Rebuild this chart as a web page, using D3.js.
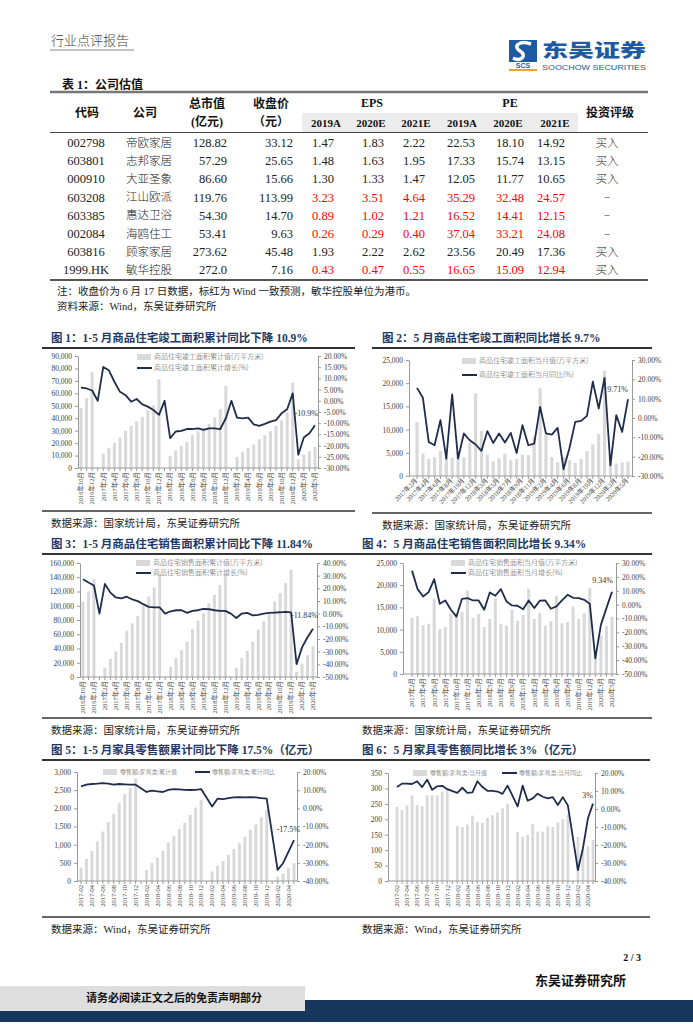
<!DOCTYPE html>
<html>
<head>
<meta charset="utf-8">
<script src="https://cdn.jsdelivr.net/npm/d3@7"></script>
<style>
  body { margin: 0; background: #fff; }
  svg { display: block; }
  text { font-family: "Liberation Serif", "Noto Sans CJK SC", serif; }
</style>
</head>
<body>
<script>
// ---- table 1 data ----
const codes = ["002798", "603801", "000910", "603208", "603385", "002084", "603816", "1999.HK"];
const companies = ["帝欧家居", "志邦家居", "大亚圣象", "江山欧派", "惠达卫浴", "海鸥住工", "顾家家居", "敏华控股"];
const marketCap = ["128.82", "57.29", "86.60", "119.76", "54.30", "53.41", "273.62", "272.0"];
const closePrice = ["33.12", "25.65", "15.66", "113.99", "14.70", "9.63", "45.48", "7.16"];
const eps2019 = ["1.47", "1.48", "1.30", "3.23", "0.89", "0.26", "1.93", "0.43"];
const eps2020 = ["1.83", "1.63", "1.33", "3.51", "1.02", "0.29", "2.22", "0.47"];
const eps2021 = ["2.22", "1.95", "1.47", "4.64", "1.21", "0.40", "2.62", "0.55"];
const pe2019 = ["22.53", "17.33", "12.05", "35.29", "16.52", "37.04", "23.56", "16.65"];
const pe2020 = ["18.10", "15.74", "11.77", "32.48", "14.41", "33.21", "20.49", "15.09"];
const pe2021 = ["14.92", "13.15", "10.65", "24.57", "12.15", "24.08", "17.36", "12.94"];
const ratings = ["买入", "买入", "买入", "–", "–", "–", "买入", "买入"];
const windForecast = [false, false, false, true, true, true, false, true];

// ---- chart categories ----
const cumMonths = [
  "2016年10月", "2016年11月", "2016年12月",
  "2017年1月", "2017年2月", "2017年3月", "2017年4月", "2017年5月", "2017年6月", "2017年7月", "2017年8月", "2017年9月", "2017年10月", "2017年11月", "2017年12月",
  "2018年1月", "2018年2月", "2018年3月", "2018年4月", "2018年5月", "2018年6月", "2018年7月", "2018年8月", "2018年9月", "2018年10月", "2018年11月", "2018年12月",
  "2019年1月", "2019年2月", "2019年3月", "2019年4月", "2019年5月", "2019年6月", "2019年7月", "2019年8月", "2019年9月", "2019年10月", "2019年11月", "2019年12月",
  "2020年2月", "2020年3月", "2020年4月", "2020年5月"
];
const singleMonths = [
  "2017年2月", "2017年3月", "2017年4月", "2017年5月", "2017年6月", "2017年7月", "2017年8月", "2017年9月", "2017年10月", "2017年11月", "2017年12月",
  "2018年2月", "2018年3月", "2018年4月", "2018年5月", "2018年6月", "2018年7月", "2018年8月", "2018年9月", "2018年10月", "2018年11月", "2018年12月",
  "2019年2月", "2019年3月", "2019年4月", "2019年5月", "2019年6月", "2019年7月", "2019年8月", "2019年9月", "2019年10月", "2019年11月", "2019年12月",
  "2020年2月", "2020年3月", "2020年4月", "2020年5月"
];
const retailMonths = [
  "2017-02", "2017-03", "2017-04", "2017-05", "2017-06", "2017-07", "2017-08", "2017-09", "2017-10", "2017-11", "2017-12",
  "2018-01", "2018-02", "2018-03", "2018-04", "2018-05", "2018-06", "2018-07", "2018-08", "2018-09", "2018-10", "2018-11", "2018-12",
  "2019-01", "2019-02", "2019-03", "2019-04", "2019-05", "2019-06", "2019-07", "2019-08", "2019-09", "2019-10", "2019-11", "2019-12",
  "2020-01", "2020-02", "2020-03", "2020-04", "2020-05"
];

// ---- chart 1: completed area, cumulative ----
const completedCum = [48200, 56300, 77100, null,
  11500, 16300, 20400, 24100, 29700, 33800, 37500, 41000, 46300, 50400, 71300, null,
  9600, 14200, 17700, 20900, 26300, 29500, 32100, 35600, 40700, 47100, 65900, null,
  8800, 12900, 16100, 18800, 23000, 26300, 29500, 33800, 38300, 44500, 68600,
  7000, 10700, 13400, 16900];
const completedCumYoy = [5.9, 5.5, 4.6, 0,
  15.1, 13.6, 8.5, 4.0, 2.5, -0.4, 0.8, -1.6, -2.6, -4.1, -6.3, 0,
  -16.7, -13.7, -13.4, -12.6, -12.6, -12.3, -13.0, -12.3, -12.3, -12.6, -7.8, 0,
  -7.5, -7.8, -7.5, -10.5, -11.2, -10.3, -9.3, -8.6, -5.6, -3.8, 3.3,
  -24.1, -16.4, -14.5, -10.9];

// ---- chart 2: completed area, single month ----
const completedMonth = [11600, 4800, 3700, 4100, 5400, 4000, 3900, 5300, 4000, 7200, 17800,
  9700, 4600, 3200, 3800, 4800, 3500, 3700, 4600, 4500, 8500, 18900,
  9000, 4100, 3000, 4100, 3400, 2800, 3700, 5300, 6800, 9000, 22700,
  4300, 2700, 2900, 3100];
const completedMonthYoy = [15.6, 10.5, -12.4, -14.1, -1.1, -21.0, 12.2, -21.0, -8.0, -11.5, -13.7,
  -17.0, -6.8, -12.9, -8.0, -12.7, -7.7, -18.1, -3.7, -14.1, -13.2, 5.8,
  -8.0, -8.6, -5.1, -26.5, -15.8, -2.0, -1.5, 1.1, 18.8, 4.9, 20.8,
  -24.5, 1.5, -7.2, 9.71];

// ---- chart 3: sold area, cumulative ----
const soldCum = [105900, 120000, 137400, null,
  13200, 25400, 35800, 48000, 65000, 75300, 85600, 99800, 112900, 125600, 143500, null,
  14100, 26800, 37600, 49400, 66800, 79000, 89400, 103500, 115300, 129000, 143500, null,
  13200, 26400, 36700, 49400, 66800, 78100, 88500, 105900, 117600, 131800, 150600,
  7100, 18800, 30600, 43300];
const soldCumYoy = [27.2, 24.6, 22.2, 0,
  23.5, 16.6, 12.8, 12.0, 13.4, 11.2, 9.9, 7.5, 5.4, 4.9, 4.9, 0,
  1.9, 2.7, 2.7, 0.6, 2.2, 2.7, 3.8, 3.5, 2.7, 2.2, 2.2, 0,
  -3.4, 0.1, 0.6, -1.3, -1.0, 0.1, 0.6, 0.9, 1.1, 1.4, 1.1,
  -39.9, -26.6, -18.6, -11.84];

// ---- chart 4: sold area, single month ----
const soldMonth = [12600, 13000, 11000, 11300, 17000, 10100, 10600, 13500, 13700, 14000, 18800,
  12600, 13500, 10600, 12400, 17000, 11200, 10900, 14500, 12000, 13300, 19200,
  12400, 13700, 10900, 11900, 17600, 11400, 11700, 15200, 12400, 13700, 19400,
  4400, 8700, 10800, 12900];
const soldMonthYoy = [24.5, 11.2, 5.9, 9.0, 18.4, 0.6, 3.0, -3.7, -8.6, 4.2, 4.7,
  3.0, 3.0, -3.7, 8.8, 6.4, 11.2, 2.3, -0.6, -0.8, -3.3, 3.0,
  -2.5, 2.8, 3.0, -3.0, -1.3, 3.0, 7.1, 4.9, 4.7, 3.5, 0.6,
  -38.7, -14.6, -2.5, 9.34];

// ---- chart 5: furniture retail, cumulative (亿元) ----
const furnitureCum = [370, 610, 830, 1090, 1360, 1620, 1850, 2140, 2390, 2560, 2820, null,
  300, 490, 640, 830, 1060, 1240, 1430, 1600, 1820, 2020, 2240, null,
  260, 410, 550, 720, 880, 1040, 1220, 1410, 1560, 1750, 1960, null,
  120, 210, 350, 490];
const furnitureCumYoy = [12.1, 13.0, 13.4, 13.6, 13.9, 13.6, 13.0, 13.4, 13.2, 13.0, 13.0, null,
  9.0, 9.7, 9.3, 9.0, 10.2, 10.6, 10.4, 10.2, 10.1, 10.2, 10.6, null,
  1.0, 5.3, 5.1, 5.6, 6.0, 6.2, 6.0, 6.2, 6.0, 5.6, 5.3, null,
  -33.9, -30.2, -23.8, -17.5];

// ---- chart 6: furniture retail, single month (亿元) ----
const furnitureMonth = [240, 230, 245, 277, 246, 243, 277, 278, 277, 290, 302, null,
  178, 175, 183, 212, 191, 188, 204, 213, 222, 236, 250, null,
  158, 143, 150, 185, 160, 160, 177, 175, 190, 200, 215, null,
  143, 100, 113, 133];
const furnitureMonthYoy = [12.2, 14.1, 14.1, 13.9, 15.4, 12.2, 16.3, 10.7, 12.6, 12.9, 11.0, null,
  9.0, 11.8, 9.0, 9.2, 15.4, 12.2, 10.1, 10.1, 9.7, 8.4, 13.0, null,
  1.4, 13.0, 4.6, 5.9, 8.5, 6.8, 5.9, 6.6, 2.2, 6.6, 2.0, null,
  -33.9, -21.8, -5.1, 3.0];

const NAVY = "#1f3864";
const LINE = "#1f2d4d";
const BAR = "#d9d9d9";
const CJK = '"Noto Sans CJK SC", sans-serif';

const svg = d3.select("body").append("svg").attr("width", 693).attr("height", 1024);

// ---- page header ----
svg.append("text").attr("x", 51).attr("y", 45).attr("font-size", 13).attr("fill", "#444")
  .style("font-family", CJK).style("font-weight", 300).text("行业点评报告");
svg.append("line").attr("x1", 50).attr("x2", 134).attr("y1", 50).attr("y2", 50).attr("stroke", "#888");

const logo = svg.append("g");
logo.append("rect").attr("x", 509).attr("y", 40).attr("width", 28).attr("height", 22).attr("fill", "#1e5aa0");
logo.append("path").attr("d", "M531,44 C520,40 512,46 520,51 C528,56 520,62 513,58")
  .attr("fill", "none").attr("stroke", "#fff").attr("stroke-width", 3.5);
logo.append("text").attr("x", 523).attr("y", 68).attr("text-anchor", "middle").attr("font-size", 7)
  .attr("font-weight", "bold").attr("fill", "#1e5aa0").style("font-family", "Liberation Sans").text("SCS");
logo.append("rect").attr("x", 509).attr("y", 69).attr("width", 28).attr("height", 2).attr("fill", "#f0a030");
logo.append("text").attr("x", 542).attr("y", 57).attr("font-size", 18).attr("fill", "#1e5aa0")
  .attr("textLength", 104).attr("lengthAdjust", "spacingAndGlyphs")
  .style("font-family", CJK).style("font-weight", 900).text("东吴证券");
logo.append("text").attr("x", 542).attr("y", 70).attr("font-size", 7.5).attr("fill", "#1e5aa0")
  .attr("textLength", 104).attr("lengthAdjust", "spacingAndGlyphs")
  .style("font-family", "Liberation Sans").text("SOOCHOW SECURITIES");

// ---- table 1 ----
const tbl = svg.append("g");
tbl.append("text").attr("x", 62).attr("y", 89).attr("font-size", 12).attr("font-weight", "bold")
  .attr("fill", "#111").text("表 1：公司估值");
tbl.append("rect").attr("x", 302).attr("y", 113).attr("width", 276).attr("height", 19).attr("fill", "#ececec");
tbl.append("line").attr("x1", 50).attr("x2", 648).attr("y1", 92).attr("y2", 92).attr("stroke", "#777").attr("stroke-width", 2.5);
tbl.append("line").attr("x1", 50).attr("x2", 648).attr("y1", 132.5).attr("y2", 132.5).attr("stroke", "#444").attr("stroke-width", 1);
tbl.append("line").attr("x1", 50).attr("x2", 648).attr("y1", 280).attr("y2", 280).attr("stroke", "#555").attr("stroke-width", 2);

const headers = [
  { t: "代码", x: 87, y: 113 }, { t: "公司", x: 145, y: 113 },
  { t: "总市值", x: 207, y: 104 }, { t: "(亿元)", x: 207, y: 122 },
  { t: "收盘价", x: 271, y: 104 }, { t: "（元）", x: 271, y: 122 },
  { t: "EPS", x: 372, y: 103 }, { t: "PE", x: 510, y: 103 },
  { t: "2019A", x: 326, y: 123 }, { t: "2020E", x: 371, y: 123 }, { t: "2021E", x: 416, y: 123 },
  { t: "2019A", x: 462, y: 123 }, { t: "2020E", x: 508, y: 123 }, { t: "2021E", x: 555, y: 123 },
  { t: "投资评级", x: 610, y: 113 }
];
tbl.selectAll("text.h").data(headers).join("text").attr("class", "h")
  .attr("x", d => d.x).attr("y", d => d.y).attr("dy", "0.35em").attr("text-anchor", "middle")
  .attr("font-size", d => /^20/.test(d.t) ? 11 : 12).attr("font-weight", "bold").attr("fill", "#111").text(d => d.t);

const columns = [
  { vals: codes, x: 86, anchor: "middle", red: false },
  { vals: companies, x: 149, anchor: "middle", red: false, cjk: true },
  { vals: marketCap, x: 227, anchor: "end", red: false },
  { vals: closePrice, x: 293, anchor: "end", red: false },
  { vals: eps2019, x: 323, anchor: "middle", red: true },
  { vals: eps2020, x: 373, anchor: "middle", red: true },
  { vals: eps2021, x: 414, anchor: "middle", red: true },
  { vals: pe2019, x: 461, anchor: "middle", red: true },
  { vals: pe2020, x: 510, anchor: "middle", red: true },
  { vals: pe2021, x: 551, anchor: "middle", red: true },
  { vals: ratings, x: 607, anchor: "middle", red: false, cjk: true }
];
const rowY = d3.scaleLinear().domain([0, codes.length - 1]).range([142.5, 270]);
columns.forEach(col => {
  tbl.append("g").selectAll("text").data(col.vals).join("text")
    .attr("x", col.x).attr("y", (d, i) => rowY(i)).attr("dy", "0.35em")
    .attr("text-anchor", col.anchor).attr("font-size", col.cjk ? 11.5 : 12.5)
    .attr("fill", (d, i) => col.red && windForecast[i] ? "#ff0000" : "#222")
    .style("font-family", col.cjk ? CJK : null).style("font-weight", col.cjk ? 300 : null)
    .text(d => d);
});
tbl.append("text").attr("x", 57).attr("y", 291).attr("dy", "0.35em").attr("font-size", 10.5).attr("fill", "#222")
  .text("注：收盘价为 6 月 17 日数据，标红为 Wind 一致预测，敏华控股单位为港币。");
tbl.append("text").attr("x", 57).attr("y", 306).attr("dy", "0.35em").attr("font-size", 10.5).attr("fill", "#222")
  .text("资料来源：Wind，东吴证券研究所");

// ---- combo chart helper ----
function drawCombo(cfg) {
  const g = svg.append("g");
  const n = cfg.cats.length;
  const s = (cfg.c1 - cfg.c0) / (n - 1);
  const x = d3.scaleBand().domain(cfg.cats).range([cfg.c0 - s / 2, cfg.c1 + s / 2])
    .paddingInner(0.45).paddingOuter(0.225);
  const cx = c => x(c) + x.bandwidth() / 2;
  const yL = d3.scaleLinear().domain([0, cfg.leftMax]).range([cfg.yBot, cfg.yTop]);
  const yR = d3.scaleLinear().domain([cfg.rightMin, cfg.rightMax]).range([cfg.yBot, cfg.yTop]);

  // title + rules
  g.append("text").attr("x", cfg.titleX).attr("y", cfg.titleY).attr("dy", "0.35em")
    .attr("font-size", 11.5).attr("font-weight", "bold").attr("fill", NAVY).text(cfg.title);
  g.append("line").attr("x1", cfg.ruleX0).attr("x2", cfg.ruleX1).attr("y1", cfg.titleY + 10).attr("y2", cfg.titleY + 10)
    .attr("stroke", "#333").attr("stroke-width", 2);
  g.append("line").attr("x1", cfg.ruleX0).attr("x2", cfg.ruleX1).attr("y1", cfg.bottomRule).attr("y2", cfg.bottomRule)
    .attr("stroke", "#333").attr("stroke-width", 1.5);
  g.append("text").attr("x", cfg.titleX).attr("y", cfg.bottomRule + 12).attr("dy", "0.35em")
    .attr("font-size", 10.5).attr("fill", "#222").text(cfg.source);

  // bars
  const barData = cfg.cats.map((c, i) => ({ c, v: cfg.bars[i] })).filter(d => d.v != null);
  g.append("g").selectAll("rect").data(barData).join("rect")
    .attr("x", d => x(d.c)).attr("y", d => yL(d.v))
    .attr("width", x.bandwidth()).attr("height", d => yL(0) - yL(d.v)).attr("fill", BAR);

  // axes
  const styleAxis = a => {
    a.selectAll("path.domain").attr("stroke", "#999");
    a.selectAll(".tick line").attr("stroke", "#999");
    a.selectAll("text").attr("font-size", 7.5).attr("fill", "#404040");
  };
  const gl = g.append("g").attr("transform", `translate(${cfg.axisL},0)`)
    .call(d3.axisLeft(yL).tickValues(d3.range(0, cfg.leftMax + 1, cfg.leftStep))
      .tickSize(3).tickSizeOuter(0).tickFormat(d3.format(",")));
  styleAxis(gl);
  const gr = g.append("g").attr("transform", `translate(${cfg.axisR},0)`)
    .call(d3.axisRight(yR).tickValues(d3.range(cfg.rightMin, cfg.rightMax + 0.01, cfg.rightStep))
      .tickSize(3).tickSizeOuter(0).tickFormat(d => d.toFixed(2) + "%"));
  styleAxis(gr);
  const gx = g.append("g").attr("transform", `translate(0,${cfg.yBot})`)
    .call(d3.axisBottom(x).tickSize(3).tickSizeOuter(0).tickFormat((d, i) => i % 2 === 0 ? d : ""));
  gx.select("path.domain").remove();
  styleAxis(gx);
  gx.selectAll("text").attr("font-size", 6.5);
  if (cfg.rotate === 45) {
    gx.selectAll("text").attr("transform", "rotate(-45)").attr("x", -3).attr("y", 2)
      .attr("dy", "0.35em").attr("text-anchor", "end");
  } else {
    gx.selectAll("text").attr("transform", "rotate(-90)").attr("x", -4).attr("y", 0)
      .attr("dy", "0.35em").attr("text-anchor", "end");
  }
  g.append("line").attr("x1", cfg.axisL).attr("x2", cfg.axisR).attr("y1", cfg.yBot).attr("y2", cfg.yBot)
    .attr("stroke", "#999");

  // line
  const pts = cfg.cats.map((c, i) => ({ c, v: cfg.line[i] })).filter(d => d.v != null);
  g.append("path").datum(pts).attr("fill", "none").attr("stroke", LINE).attr("stroke-width", 1.8)
    .attr("stroke-linejoin", "round")
    .attr("d", d3.line().x(d => cx(d.c)).y(d => yR(d.v)));

  // annotation on last point
  const last = pts[pts.length - 1];
  g.append("text").attr("x", cx(last.c) + cfg.ann.dx).attr("y", yR(last.v) + cfg.ann.dy)
    .attr("text-anchor", "end").attr("font-size", 8).attr("fill", "#333").text(cfg.ann.text);

  // legend
  cfg.legend.forEach(item => {
    if (item.type === "bar") {
      g.append("rect").attr("x", item.x).attr("y", item.y - 3).attr("width", 14).attr("height", 6).attr("fill", BAR);
    } else {
      g.append("line").attr("x1", item.x).attr("x2", item.x + 15).attr("y1", item.y).attr("y2", item.y)
        .attr("stroke", LINE).attr("stroke-width", 2);
    }
    g.append("text").attr("x", item.x + 17).attr("y", item.y).attr("dy", "0.35em")
      .attr("font-size", item.fs || 7).attr("fill", "#555").style("font-family", CJK).style("font-weight", 300)
      .text(item.label);
  });
}

const srcNbs = "数据来源：国家统计局，东吴证券研究所";
const srcWind = "数据来源：Wind，东吴证券研究所";

drawCombo({
  title: "图 1：1-5 月商品住宅竣工面积累计同比下降 10.9%", titleX: 51, titleY: 338, ruleX0: 42, ruleX1: 355,
  cats: cumMonths, bars: completedCum, line: completedCumYoy,
  c0: 81, c1: 315, axisL: 78, axisR: 318, yTop: 356, yBot: 468,
  leftMax: 90000, leftStep: 10000, rightMin: -30, rightMax: 20, rightStep: 5,
  rotate: 90, bottomRule: 511, source: srcNbs,
  ann: { text: "-10.9%", dx: 3, dy: -9 },
  legend: [
    { type: "bar", x: 137, y: 357, label: "商品住宅竣工面积累计值(万平方米)" },
    { type: "line", x: 137, y: 368, label: "商品住宅竣工面积累计增长(%)" }
  ]
});

drawCombo({
  title: "图 2：5 月商品住宅竣工面积同比增长 9.7%", titleX: 382, titleY: 338, ruleX0: 372, ruleX1: 652,
  cats: singleMonths, bars: completedMonth, line: completedMonthYoy,
  c0: 417, c1: 628, axisL: 409, axisR: 632, yTop: 360, yBot: 476,
  leftMax: 25000, leftStep: 5000, rightMin: -30, rightMax: 30, rightStep: 10,
  rotate: 45, bottomRule: 513, source: srcNbs,
  ann: { text: "9.71%", dx: 0, dy: -7 },
  legend: [
    { type: "bar", x: 462, y: 361, label: "商品住宅竣工面积当月值(万平方米)" },
    { type: "line", x: 462, y: 375, label: "商品住宅竣工面积当月同比(%)" }
  ]
});

drawCombo({
  title: "图 3：1-5 月商品住宅销售面积累计同比下降 11.84%", titleX: 51, titleY: 544, ruleX0: 42, ruleX1: 355,
  cats: cumMonths, bars: soldCum, line: soldCumYoy,
  c0: 83, c1: 313, axisL: 80, axisR: 317, yTop: 563, yBot: 677,
  leftMax: 160000, leftStep: 20000, rightMin: -50, rightMax: 40, rightStep: 10,
  rotate: 90, bottomRule: 718, source: srcNbs,
  ann: { text: "-11.84%", dx: 5, dy: -11 },
  legend: [
    { type: "bar", x: 136, y: 563, label: "商品住宅销售面积累计值(万平方米)" },
    { type: "line", x: 136, y: 573, label: "商品住宅销售面积累计增长(%)" }
  ]
});

drawCombo({
  title: "图 4：5 月商品住宅销售面积同比增长 9.34%", titleX: 362, titleY: 544, ruleX0: 355, ruleX1: 652,
  cats: singleMonths, bars: soldMonth, line: soldMonthYoy,
  c0: 412, c1: 612, axisL: 403, axisR: 616, yTop: 563, yBot: 674,
  leftMax: 25000, leftStep: 5000, rightMin: -50, rightMax: 30, rightStep: 10,
  rotate: 90, bottomRule: 718, source: srcNbs,
  ann: { text: "9.34%", dx: 1, dy: -9 },
  legend: [
    { type: "bar", x: 451, y: 563, label: "商品住宅销售面积当月值(万平方米)" },
    { type: "line", x: 451, y: 573, label: "商品住宅销售面积当月增长(%)" }
  ]
});

drawCombo({
  title: "图 5：1-5 月家具零售额累计同比下降 17.5%（亿元）", titleX: 51, titleY: 750, ruleX0: 42, ruleX1: 355,
  cats: retailMonths, bars: furnitureCum, line: furnitureCumYoy,
  c0: 81, c1: 294, axisL: 77, axisR: 297, yTop: 772, yBot: 881,
  leftMax: 3000, leftStep: 500, rightMin: -40, rightMax: 20, rightStep: 10,
  rotate: 90, bottomRule: 917, source: srcWind,
  ann: { text: "-17.5%", dx: 6, dy: -8 },
  legend: [
    { type: "bar", x: 103, y: 772, label: "零售额:家具类:累计值", fs: 6 },
    { type: "line", x: 195, y: 772, label: "零售额:家具类:累计同比", fs: 6 }
  ]
});

drawCombo({
  title: "图 6：5 月家具零售额同比增长 3%（亿元）", titleX: 362, titleY: 750, ruleX0: 355, ruleX1: 650,
  cats: retailMonths, bars: furnitureMonth, line: furnitureMonthYoy,
  c0: 397, c1: 593, axisL: 388, axisR: 595, yTop: 773, yBot: 881,
  leftMax: 350, leftStep: 50, rightMin: -40, rightMax: 20, rightStep: 10,
  rotate: 90, bottomRule: 917, source: srcWind,
  ann: { text: "3%", dx: 0, dy: -6 },
  legend: [
    { type: "bar", x: 413, y: 773, label: "零售额:家具类:当月值", fs: 6 },
    { type: "line", x: 502, y: 773, label: "零售额:家具类:当月同比", fs: 6 }
  ]
});

// ---- page footer ----
svg.append("text").attr("x", 641).attr("y", 961).attr("text-anchor", "end").attr("font-size", 10)
  .attr("font-weight", "bold").attr("fill", "#111").text("2 / 3");
svg.append("text").attr("x", 626).attr("y", 985).attr("text-anchor", "end").attr("font-size", 13)
  .attr("font-weight", "bold").attr("fill", "#111").text("东吴证券研究所");
svg.append("rect").attr("x", 0).attr("y", 1000).attr("width", 693).attr("height", 22).attr("fill", "#17365d");
svg.append("rect").attr("x", 0).attr("y", 986).attr("width", 305).attr("height", 25).attr("fill", "#dedede");
svg.append("text").attr("x", 174).attr("y", 998.5).attr("dy", "0.35em").attr("text-anchor", "middle")
  .attr("font-size", 11).attr("font-weight", "bold").attr("fill", "#111").text("请务必阅读正文之后的免责声明部分");
</script>
</body>
</html>
